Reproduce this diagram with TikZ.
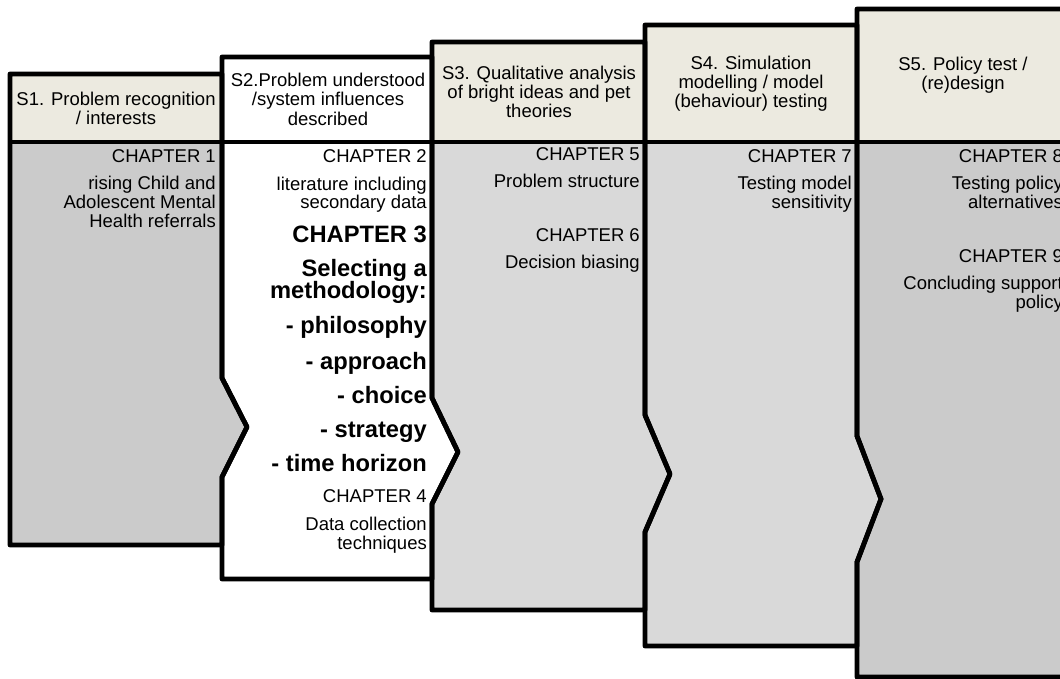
\documentclass[tikz,border=0pt]{standalone}
\usepackage{fontspec}
\setmainfont{Liberation Sans}
\definecolor{hdrfill}{HTML}{ECEAE0}
\definecolor{gdark}{HTML}{CBCBCB}
\definecolor{glight}{HTML}{D9D9D9}
\begin{document}
\begin{tikzpicture}[x=1pt,y=-1pt,
  border/.style={line width=4.8pt, line join=round, draw=black},
  rt/.style={anchor=base east, inner sep=0pt, font=\fontsize{18.5}{19}\selectfont},
  bt/.style={anchor=base east, inner sep=0pt, font=\fontsize{23.7}{21}\selectfont\bfseries},
  ht/.style={anchor=base, inner sep=0pt, font=\fontsize{18.5}{19}\selectfont},
]
\clip (0,0) rectangle (1060,679);
% ---------- fills ----------
\fill[gdark] (10,74) -- (222,74) -- (222,378) -- (247,427) -- (222,477) -- (222,545) -- (10,545) -- cycle;
\fill[white] (222,57) -- (432,57) -- (432,398) -- (458,452) -- (432,504) -- (432,579) -- (222,579) -- (222,477) -- (247,427) -- (222,378) -- cycle;
\fill[glight] (432,42) -- (645,42) -- (645,415) -- (670,474) -- (645,532) -- (645,610) -- (432,610) -- (432,504) -- (458,452) -- (432,398) -- cycle;
\fill[glight] (645,25) -- (857,25) -- (857,436) -- (881,499) -- (857,562) -- (857,646) -- (645,646) -- (645,532) -- (670,474) -- (645,415) -- cycle;
\fill[gdark] (857,9) -- (1069,9) -- (1069,677) -- (857,677) -- (857,562) -- (881,499) -- (857,436) -- cycle;
\fill[hdrfill] (10,74) rectangle (222,142);
\fill[hdrfill] (432,42) rectangle (645,142);
\fill[hdrfill] (645,25) rectangle (857,142);
\fill[hdrfill] (857,9) rectangle (1069,142);
% ---------- borders ----------
\draw[border] (10,74) -- (222,74) -- (222,378) -- (247,427) -- (222,477) -- (222,545) -- (10,545) -- cycle;
\draw[border] (222,57) -- (432,57) -- (432,398) -- (458,452) -- (432,504) -- (432,579) -- (222,579) -- (222,477) -- (247,427) -- (222,378) -- cycle;
\draw[border] (432,42) -- (645,42) -- (645,415) -- (670,474) -- (645,532) -- (645,610) -- (432,610) -- (432,504) -- (458,452) -- (432,398) -- cycle;
\draw[border] (645,25) -- (857,25) -- (857,436) -- (881,499) -- (857,562) -- (857,646) -- (645,646) -- (645,532) -- (670,474) -- (645,415) -- cycle;
\draw[border] (857,9) -- (1069,9) -- (1069,677) -- (857,677) -- (857,562) -- (881,499) -- (857,436) -- cycle;
\draw[border] (10,142) -- (222,142);
\draw[border] (222,142) -- (432,142);
\draw[border] (432,142) -- (645,142);
\draw[border] (645,142) -- (857,142);
\draw[border] (857,142) -- (1069,142);
% ---------- headers ----------
\node[ht] (h1a) at (116,105.5) {S1. Problem recognition};
\node[ht] (h1b) at (116,124.5) {/ interests};
\node[ht] (h2a) at (328,86.5) {S2.Problem understood};
\node[ht] (h2b) at (328,106) {/system influences};
\node[ht] (h2c) at (328,125.5) {described};
\node[ht] (h3a) at (539,79.5) {S3. Qualitative analysis};
\node[ht] (h3b) at (539,98.5) {of bright ideas and pet};
\node[ht] (h3c) at (539,117.5) {theories};
\node[ht] (h4a) at (751,70) {S4. Simulation};
\node[ht] (h4b) at (751,89) {modelling / model};
\node[ht] (h4c) at (751,108) {(behaviour) testing};
\node[ht] (h5a) at (963,71) {S5. Policy test /};
\node[ht] (h5b) at (963,90) {(re)design};
% ---------- panel 1 ----------
\node[rt] (c1) at (216,163) {CHAPTER 1};
\node[rt] (c1a) at (216,190) {rising Child and};
\node[rt] (c1b) at (216,209) {Adolescent Mental};
\node[rt] (c1c) at (216,228) {Health referrals};
% ---------- panel 2 ----------
\node[rt] (c2) at (427,163) {CHAPTER 2};
\node[rt] (c2a) at (427,190.5) {literature including};
\node[rt] (c2b) at (427,209) {secondary data};
\node[bt] (c3) at (427,242) {CHAPTER 3};
\node[bt] (c3a) at (427,276) {Selecting a};
\node[bt] (c3b) at (427,298) {methodology:};
\node[bt] (c3c) at (427,333) {- philosophy};
\node[bt] (c3d) at (427,369) {- approach};
\node[bt] (c3e) at (427,403) {- choice};
\node[bt] (c3f) at (427,437.5) {- strategy};
\node[bt] (c3g) at (427,471.5) {- time horizon};
\node[rt] (c4) at (427,502) {CHAPTER 4};
\node[rt] (c4a) at (427,530) {Data collection};
\node[rt] (c4b) at (427,549) {techniques};
% ---------- panel 3 ----------
\node[rt] (c5) at (640,161) {CHAPTER 5};
\node[rt] (c5a) at (640,188) {Problem structure};
\node[rt] (c6) at (640,241) {CHAPTER 6};
\node[rt] (c6a) at (640,268) {Decision biasing};
% ---------- panel 4 ----------
\node[rt] (c7) at (852,163) {CHAPTER 7};
\node[rt] (c7a) at (852,190) {Testing model};
\node[rt] (c7b) at (852,209) {sensitivity};
% ---------- panel 5 ----------
\node[rt] (c8) at (1063,163) {CHAPTER 8};
\node[rt] (c8a) at (1063,190) {Testing policy};
\node[rt] (c8b) at (1063,209) {alternatives};
\node[rt] (c9) at (1063,262.5) {CHAPTER 9};
\node[rt] (c9a) at (1063,289.5) {Concluding support};
\node[rt] (c9b) at (1063,308.5) {policy};
\end{tikzpicture}
\end{document}
